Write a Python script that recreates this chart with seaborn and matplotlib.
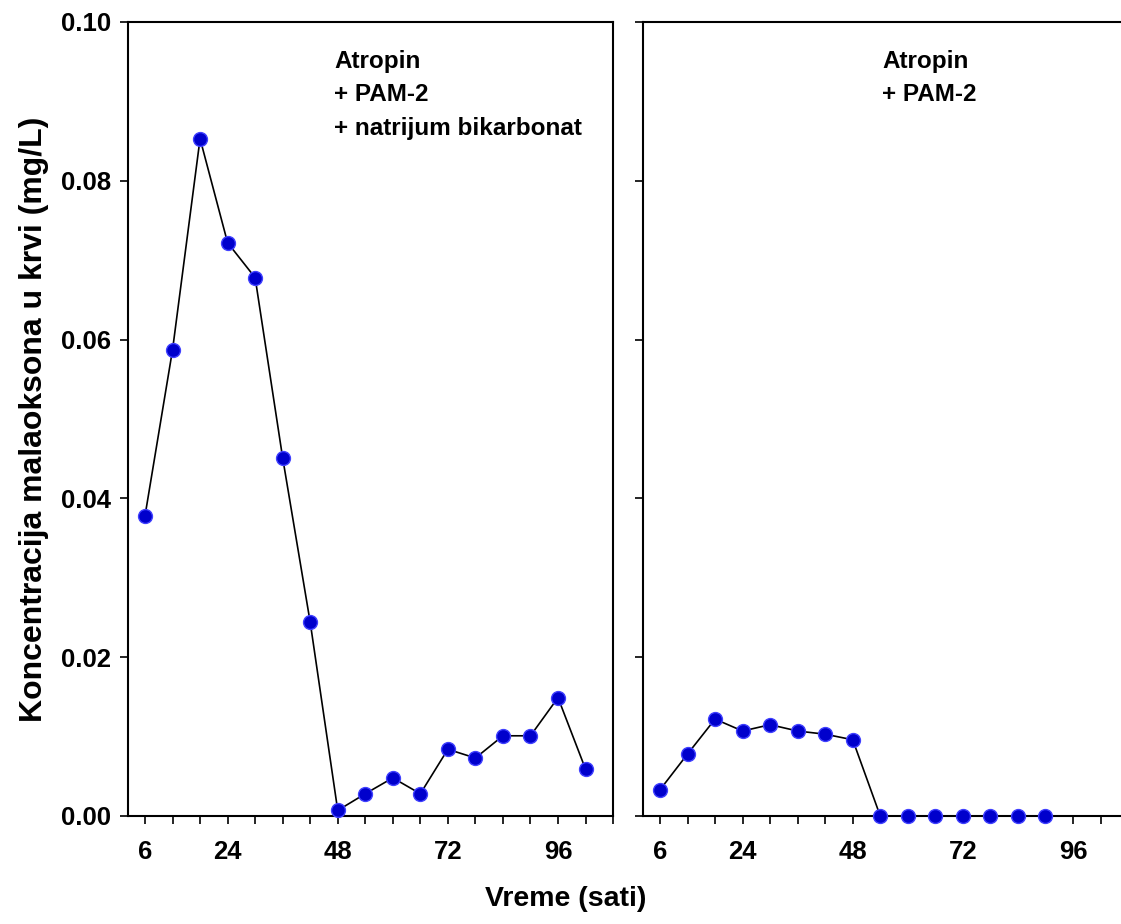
import numpy as np
import pandas as pd
import matplotlib
matplotlib.use('Agg')
import matplotlib.pyplot as plt
import seaborn as sns

# hours after admission
hours_left = [6, 12, 18, 24, 30, 36, 42, 48, 54, 60, 66, 72, 78, 84, 90, 96, 102]
conc_left = [0.0378, 0.0587, 0.0853, 0.0722, 0.0678, 0.0451, 0.0244, 0.0007,
             0.0028, 0.0048, 0.0028, 0.0084, 0.0073, 0.0101, 0.0101, 0.0149, 0.0059]
hours_right = [6, 12, 18, 24, 30, 36, 42, 48, 54, 60, 66, 72, 78, 84, 90]
conc_right = [0.0033, 0.0078, 0.0122, 0.0107, 0.0115, 0.0107, 0.0103, 0.0096,
              0.0, 0.0, 0.0, 0.0, 0.0, 0.0, 0.0]

label_left = 'Atropin\n+ PAM-2\n+ natrijum bikarbonat'
label_right = 'Atropin\n+ PAM-2'
xtick_labels = [6, 24, 48, 72, 96]
ytick_labels = [0.00, 0.02, 0.04, 0.06, 0.08, 0.10]

sns.set_style('ticks')
plt.rcParams['font.family'] = ['Liberation Sans', 'DejaVu Sans']
plt.rcParams['font.weight'] = 'bold'
plt.rcParams['text.color'] = 'black'
plt.rcParams['axes.labelcolor'] = 'black'
plt.rcParams['xtick.color'] = 'black'
plt.rcParams['ytick.color'] = 'black'

fig = plt.figure(figsize=(11.21, 9.24), dpi=100)
ax1 = fig.add_axes([0.1142, 0.1169, 0.4327, 0.8593])
ax2 = fig.add_axes([0.5736, 0.1169, 0.4327, 0.8593])


def draw_panel(ax, x, y, txt, txt_x):
    df = pd.DataFrame({'h': x, 'c': y})
    sns.lineplot(data=df, x='h', y='c', ax=ax, color='black', linewidth=1.2,
                 marker='o', markersize=10, markerfacecolor='#0000cc',
                 markeredgecolor='#4040ff', markeredgewidth=1.0, zorder=3,
                 clip_on=False)
    ax.set_xlim(2.3, 108)
    ax.set_ylim(0, 0.10)
    ax.set_xticks(np.arange(6, 109, 6))
    ax.set_xticklabels([str(v) if v in xtick_labels else '' for v in np.arange(6, 109, 6)])
    ax.set_yticks(ytick_labels)
    ax.tick_params(direction='out', length=6, width=1.2, labelsize=18.5, pad=11)
    for s in ax.spines.values():
        s.set_visible(True)
        s.set_linewidth(1.5)
        s.set_color('black')
    ax.set_xlabel('')
    ax.set_ylabel('')
    ax.text(txt_x, 0.965, txt, transform=ax.transAxes, ha='left', va='top',
            fontsize=17.5, fontweight='bold', linespacing=1.58, color='black')


draw_panel(ax1, hours_left, conc_left, label_left, 0.425)
draw_panel(ax2, hours_right, conc_right, label_right, 0.493)

ax1.set_yticklabels(['%.2f' % v for v in ytick_labels])
ax1.tick_params(axis='y', pad=6)
ax2.set_yticklabels([])
ax1.set_ylabel('Koncentracija malaoksona u krvi (mg/L)', fontsize=23,
               fontweight='bold', labelpad=9)
fig.text(0.505, 0.027, 'Vreme (sati)', ha='center', va='center',
         fontsize=20.5, fontweight='bold')

fig.savefig('out.png', dpi=100)
